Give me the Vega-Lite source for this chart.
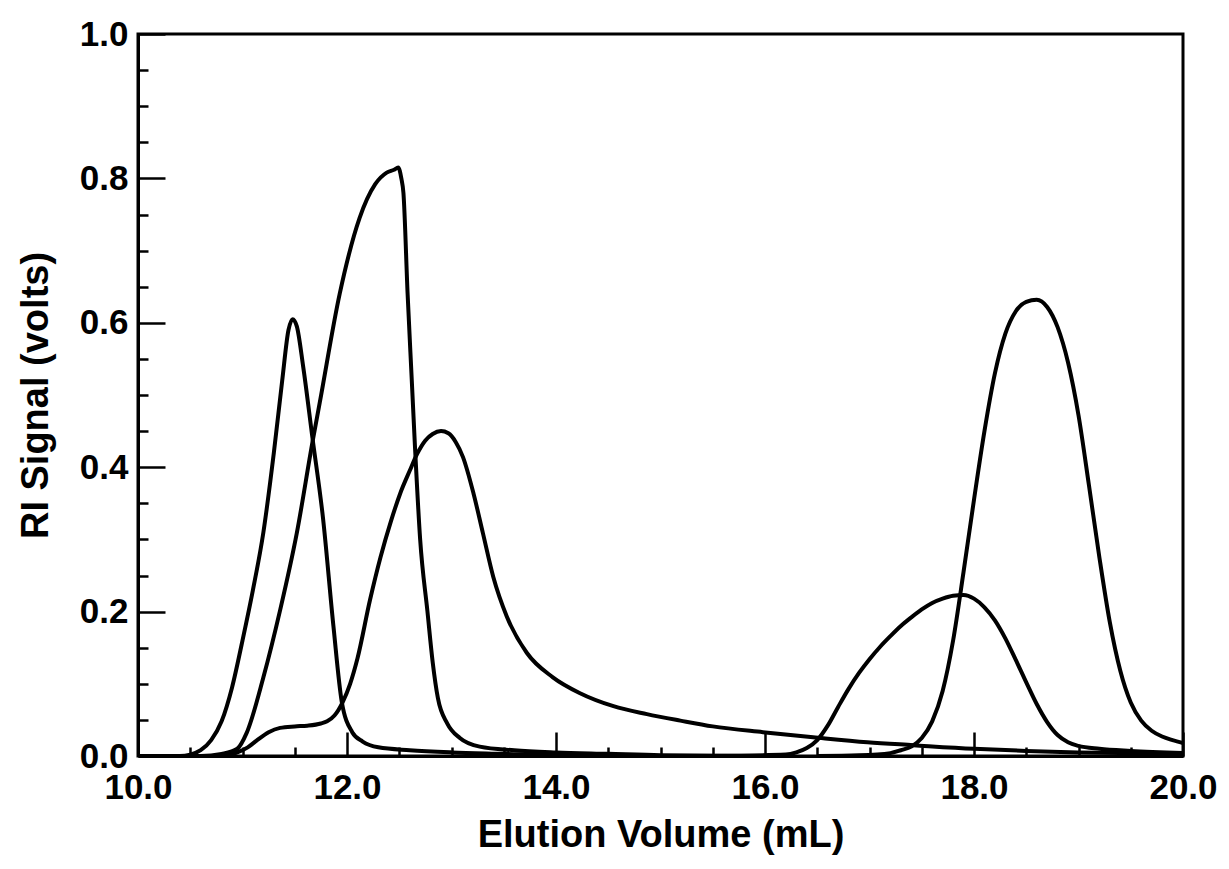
{
  "$schema": "https://vega.github.io/schema/vega-lite/v6.json",
  "width": 1045,
  "height": 722,
  "autosize": {"type": "none"},
  "padding": {"left": 138, "top": 34, "right": 46, "bottom": 113},
  "background": "white",
  "config": {
    "view": {"stroke": "black", "strokeWidth": 3},
    "axis": {"grid": false, "domainColor": "black", "tickColor": "black", "labelColor": "black", "titleColor": "black", "labelFont": "Liberation Sans", "titleFont": "Liberation Sans"}
  },
  "datasets": {
    "curves": [
      {"series": "A", "v": 10.0, "s": 0},
      {"series": "A", "v": 10.4, "s": 0},
      {"series": "A", "v": 10.5, "s": 0.002},
      {"series": "A", "v": 10.6, "s": 0.008},
      {"series": "A", "v": 10.7, "s": 0.022},
      {"series": "A", "v": 10.8, "s": 0.048},
      {"series": "A", "v": 10.9, "s": 0.095},
      {"series": "A", "v": 11.0, "s": 0.16},
      {"series": "A", "v": 11.1, "s": 0.23},
      {"series": "A", "v": 11.2, "s": 0.31},
      {"series": "A", "v": 11.3, "s": 0.42},
      {"series": "A", "v": 11.38, "s": 0.52},
      {"series": "A", "v": 11.44, "s": 0.59},
      {"series": "A", "v": 11.48, "s": 0.605},
      {"series": "A", "v": 11.52, "s": 0.595},
      {"series": "A", "v": 11.58, "s": 0.54},
      {"series": "A", "v": 11.67, "s": 0.44},
      {"series": "A", "v": 11.77, "s": 0.33},
      {"series": "A", "v": 11.87, "s": 0.18},
      {"series": "A", "v": 11.95, "s": 0.075},
      {"series": "A", "v": 12.05, "s": 0.033},
      {"series": "A", "v": 12.15, "s": 0.02},
      {"series": "A", "v": 12.3, "s": 0.012},
      {"series": "A", "v": 12.6, "s": 0.008},
      {"series": "A", "v": 13.0, "s": 0.005},
      {"series": "A", "v": 13.5, "s": 0.003},
      {"series": "A", "v": 14.0, "s": 0.001},
      {"series": "A", "v": 15.0, "s": 0},
      {"series": "B", "v": 10.0, "s": 0},
      {"series": "B", "v": 10.6, "s": 0},
      {"series": "B", "v": 10.8, "s": 0.003},
      {"series": "B", "v": 10.95, "s": 0.01},
      {"series": "B", "v": 11.04, "s": 0.032},
      {"series": "B", "v": 11.2, "s": 0.109},
      {"series": "B", "v": 11.36, "s": 0.202},
      {"series": "B", "v": 11.52, "s": 0.309},
      {"series": "B", "v": 11.67, "s": 0.435},
      {"series": "B", "v": 11.74, "s": 0.49},
      {"series": "B", "v": 11.93, "s": 0.64},
      {"series": "B", "v": 12.12, "s": 0.745},
      {"series": "B", "v": 12.27, "s": 0.792},
      {"series": "B", "v": 12.38, "s": 0.808},
      {"series": "B", "v": 12.45, "s": 0.812},
      {"series": "B", "v": 12.49, "s": 0.815},
      {"series": "B", "v": 12.52, "s": 0.8},
      {"series": "B", "v": 12.54, "s": 0.78},
      {"series": "B", "v": 12.58, "s": 0.64},
      {"series": "B", "v": 12.62, "s": 0.52},
      {"series": "B", "v": 12.65, "s": 0.43},
      {"series": "B", "v": 12.7, "s": 0.3},
      {"series": "B", "v": 12.77, "s": 0.2},
      {"series": "B", "v": 12.82, "s": 0.13},
      {"series": "B", "v": 12.87, "s": 0.08},
      {"series": "B", "v": 12.96, "s": 0.045},
      {"series": "B", "v": 13.08, "s": 0.025},
      {"series": "B", "v": 13.27, "s": 0.013},
      {"series": "B", "v": 13.6, "s": 0.008},
      {"series": "B", "v": 14.0, "s": 0.005},
      {"series": "B", "v": 14.5, "s": 0.003},
      {"series": "B", "v": 15.0, "s": 0.001},
      {"series": "B", "v": 16.0, "s": 0},
      {"series": "C", "v": 10.0, "s": 0},
      {"series": "C", "v": 10.8, "s": 0},
      {"series": "C", "v": 10.95, "s": 0.005},
      {"series": "C", "v": 11.05, "s": 0.012},
      {"series": "C", "v": 11.14, "s": 0.022},
      {"series": "C", "v": 11.25, "s": 0.033},
      {"series": "C", "v": 11.36, "s": 0.039},
      {"series": "C", "v": 11.5, "s": 0.041},
      {"series": "C", "v": 11.62, "s": 0.042},
      {"series": "C", "v": 11.75, "s": 0.045},
      {"series": "C", "v": 11.81, "s": 0.048},
      {"series": "C", "v": 11.88, "s": 0.056},
      {"series": "C", "v": 11.96, "s": 0.075},
      {"series": "C", "v": 12.03, "s": 0.1},
      {"series": "C", "v": 12.1, "s": 0.135},
      {"series": "C", "v": 12.22, "s": 0.216},
      {"series": "C", "v": 12.32, "s": 0.275},
      {"series": "C", "v": 12.42, "s": 0.325},
      {"series": "C", "v": 12.51, "s": 0.364},
      {"series": "C", "v": 12.6, "s": 0.395},
      {"series": "C", "v": 12.67, "s": 0.418},
      {"series": "C", "v": 12.75, "s": 0.437},
      {"series": "C", "v": 12.82, "s": 0.446},
      {"series": "C", "v": 12.9, "s": 0.45},
      {"series": "C", "v": 12.97, "s": 0.447},
      {"series": "C", "v": 13.04, "s": 0.435},
      {"series": "C", "v": 13.11, "s": 0.414},
      {"series": "C", "v": 13.21, "s": 0.364},
      {"series": "C", "v": 13.3, "s": 0.309},
      {"series": "C", "v": 13.4, "s": 0.248},
      {"series": "C", "v": 13.53, "s": 0.193},
      {"series": "C", "v": 13.72, "s": 0.143},
      {"series": "C", "v": 13.97, "s": 0.109},
      {"series": "C", "v": 14.23, "s": 0.087},
      {"series": "C", "v": 14.55, "s": 0.069},
      {"series": "C", "v": 14.87, "s": 0.058},
      {"series": "C", "v": 15.19, "s": 0.049},
      {"series": "C", "v": 15.5, "s": 0.041},
      {"series": "C", "v": 15.98, "s": 0.033},
      {"series": "C", "v": 16.46, "s": 0.026},
      {"series": "C", "v": 16.98, "s": 0.019},
      {"series": "C", "v": 17.42, "s": 0.015},
      {"series": "C", "v": 18.0, "s": 0.01},
      {"series": "C", "v": 18.5, "s": 0.007},
      {"series": "C", "v": 19.0, "s": 0.005},
      {"series": "C", "v": 20.0, "s": 0.003},
      {"series": "D", "v": 15.5, "s": 0},
      {"series": "D", "v": 16.2, "s": 0.002},
      {"series": "D", "v": 16.3, "s": 0.005},
      {"series": "D", "v": 16.4, "s": 0.011},
      {"series": "D", "v": 16.5, "s": 0.022},
      {"series": "D", "v": 16.6, "s": 0.042},
      {"series": "D", "v": 16.7, "s": 0.068},
      {"series": "D", "v": 16.8, "s": 0.093},
      {"series": "D", "v": 16.9, "s": 0.115},
      {"series": "D", "v": 17.0, "s": 0.134},
      {"series": "D", "v": 17.1, "s": 0.151},
      {"series": "D", "v": 17.2, "s": 0.166},
      {"series": "D", "v": 17.3, "s": 0.18},
      {"series": "D", "v": 17.4, "s": 0.192},
      {"series": "D", "v": 17.5, "s": 0.203},
      {"series": "D", "v": 17.6, "s": 0.212},
      {"series": "D", "v": 17.7, "s": 0.218},
      {"series": "D", "v": 17.8, "s": 0.222},
      {"series": "D", "v": 17.9, "s": 0.223},
      {"series": "D", "v": 18.0, "s": 0.218},
      {"series": "D", "v": 18.1, "s": 0.206},
      {"series": "D", "v": 18.2, "s": 0.188},
      {"series": "D", "v": 18.3, "s": 0.163},
      {"series": "D", "v": 18.4, "s": 0.133},
      {"series": "D", "v": 18.5, "s": 0.102},
      {"series": "D", "v": 18.6, "s": 0.072},
      {"series": "D", "v": 18.7, "s": 0.047},
      {"series": "D", "v": 18.8, "s": 0.029},
      {"series": "D", "v": 18.9, "s": 0.019},
      {"series": "D", "v": 19.0, "s": 0.014},
      {"series": "D", "v": 19.2, "s": 0.01},
      {"series": "D", "v": 19.5, "s": 0.007},
      {"series": "D", "v": 20.0, "s": 0.004},
      {"series": "E", "v": 16.5, "s": 0},
      {"series": "E", "v": 16.9, "s": 0.001},
      {"series": "E", "v": 17.2, "s": 0.004},
      {"series": "E", "v": 17.3, "s": 0.008},
      {"series": "E", "v": 17.4, "s": 0.013},
      {"series": "E", "v": 17.5, "s": 0.025},
      {"series": "E", "v": 17.6, "s": 0.048},
      {"series": "E", "v": 17.7, "s": 0.09},
      {"series": "E", "v": 17.8, "s": 0.16},
      {"series": "E", "v": 17.9, "s": 0.255},
      {"series": "E", "v": 18.0, "s": 0.355},
      {"series": "E", "v": 18.1, "s": 0.45},
      {"series": "E", "v": 18.2, "s": 0.53},
      {"series": "E", "v": 18.3, "s": 0.585},
      {"series": "E", "v": 18.4, "s": 0.616},
      {"series": "E", "v": 18.5, "s": 0.629},
      {"series": "E", "v": 18.6, "s": 0.632},
      {"series": "E", "v": 18.7, "s": 0.622},
      {"series": "E", "v": 18.8, "s": 0.594},
      {"series": "E", "v": 18.9, "s": 0.545},
      {"series": "E", "v": 19.0, "s": 0.472},
      {"series": "E", "v": 19.1, "s": 0.375},
      {"series": "E", "v": 19.2, "s": 0.275},
      {"series": "E", "v": 19.3, "s": 0.185},
      {"series": "E", "v": 19.4, "s": 0.118},
      {"series": "E", "v": 19.5, "s": 0.074},
      {"series": "E", "v": 19.6, "s": 0.049},
      {"series": "E", "v": 19.7, "s": 0.035},
      {"series": "E", "v": 19.8, "s": 0.027},
      {"series": "E", "v": 19.9, "s": 0.022},
      {"series": "E", "v": 20.0, "s": 0.018}
    ]
  },
  "data": {"name": "curves"},
  "layer": [
    {
      "mark": {"type": "line", "color": "black", "strokeWidth": 4, "interpolate": "monotone", "clip": true},
      "encoding": {
        "x": {"field": "v", "type": "quantitative", "scale": {"domain": [10, 20], "nice": false, "zero": false},
          "axis": {"orient": "bottom", "values": [10, 12, 14, 16, 18, 20], "format": ".1f", "tickSize": -24, "tickWidth": 2.5, "domainWidth": 3,
            "labelFontSize": 35, "labelFontWeight": "bold", "labelPadding": 38, "labelFlush": false, "labelOverlap": false,
            "title": "Elution Volume (mL)", "titleFontSize": 38, "titleFontWeight": "bold", "titlePadding": 11}},
        "y": {"field": "s", "type": "quantitative", "scale": {"domain": [0, 1], "nice": false},
          "axis": {"orient": "left", "values": [0, 0.2, 0.4, 0.6, 0.8, 1.0], "format": ".1f", "tickSize": -27, "tickWidth": 2.5, "domainWidth": 3,
            "labelFontSize": 35, "labelFontWeight": "bold", "labelPadding": 37, "labelFlush": false, "labelOverlap": false,
            "title": "RI Signal (volts)", "titleFontSize": 38, "titleFontWeight": "bold", "titlePadding": 24}},
        "detail": {"field": "series", "type": "nominal"}
      }
    },
    {
      "mark": {"type": "point", "opacity": 0},
      "encoding": {
        "x": {"field": "v", "type": "quantitative",
          "axis": {"orient": "bottom", "values": [10.5, 11, 11.5, 12.5, 13, 13.5, 14.5, 15, 15.5, 16.5, 17, 17.5, 18.5, 19, 19.5], "tickSize": -9, "tickWidth": 2.5, "domain": false, "labels": false, "title": null}},
        "y": {"field": "s", "type": "quantitative",
          "axis": {"orient": "left", "values": [0.05, 0.1, 0.15, 0.25, 0.3, 0.35, 0.45, 0.5, 0.55, 0.65, 0.7, 0.75, 0.85, 0.9, 0.95], "tickSize": -10, "tickWidth": 2.5, "domain": false, "labels": false, "title": null}}
      }
    }
  ],
  "resolve": {"axis": {"x": "independent", "y": "independent"}}
}
